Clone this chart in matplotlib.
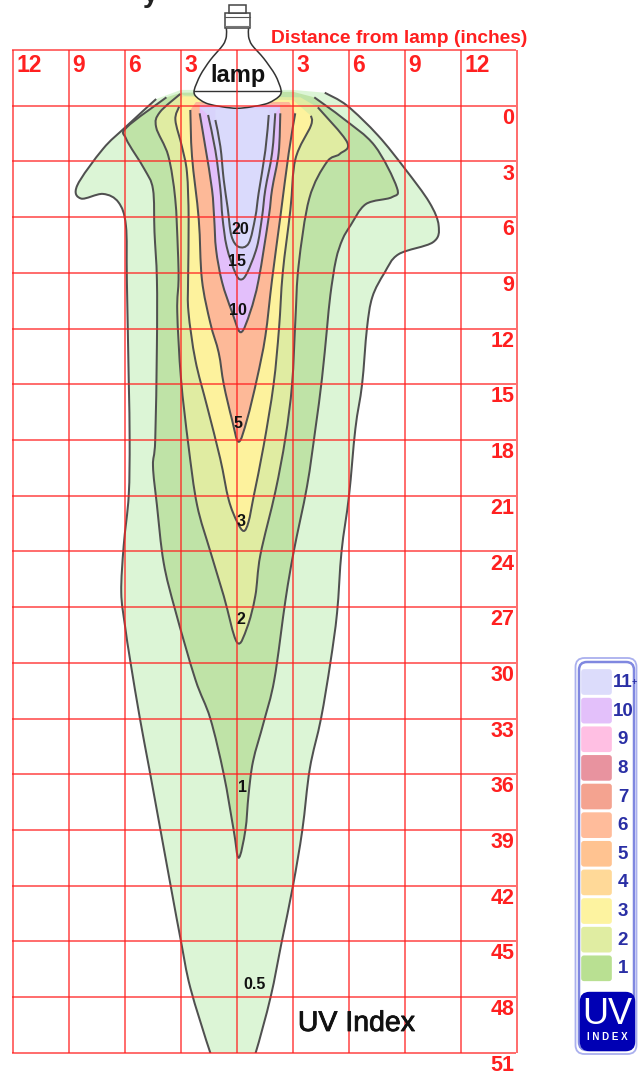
import matplotlib
matplotlib.use("Agg")
import matplotlib.pyplot as plt
import matplotlib.patheffects as pe
import numpy as np
from matplotlib.path import Path
from matplotlib.patches import PathPatch, Rectangle, FancyBboxPatch

plt.rcParams['font.family'] = ['Liberation Sans', 'DejaVu Sans']

# Contours: (x inches from lamp axis, depth inches)
lvl05 = [(-4.33,-.36),(-5.98,1.16),(-7.18,2.33),(-8.56,4.3),(-8.35,5.0),(-7.18,4.75),(-6.35,5.2),(-5.95,6.45),(-5.9,9.35),(-5.8,14.7),(-5.75,18),(-5.8,21),(-6.07,23.7),(-6.2,26.2),(-6,28),(-5.7,30),(-5.2,33),(-4.7,35.7),(-4.1,39),(-3.5,42.3),(-3,45),(-2.5,47.5),(-1.43,51),(-1.0,52),(0.6,52),(1,51),(1.8,48),(2.4,45),(3,42),(3.5,39),(3.9,35.7),(4.5,33),(5,30),(5.36,27.3),(5.6,24),(6,21),(6.34,17.4),(6.7,15),(6.96,12),(7.25,10.3),(7.9,9.0),(8.65,8),(10.5,7.35),(10.8,6.45),(10.3,5.2),(9,3.4),(7.55,1.6),(5.9,0),(4.7,-.7)]
lvl1 = [(-3.78,-.45),(-5.9,1.16),(-5.93,1.8),(-4.97,3.4),(-4.5,4.5),(-4.42,6.8),(-4.29,9.35),(-4.29,12.9),(-4.38,18),(-4.5,19.4),(-4.29,21.5),(-3.93,24.6),(-3.3,27.2),(-2.23,30.9),(-1.43,33),(-.71,36),(-.18,39),(.09,40.5),(.45,39),(.62,37.1),(.86,35.3),(1.43,33.2),(2,30.9),(2.6,26.6),(3.04,24),(3.75,20.5),(4.2,17.4),(4.55,14.7),(4.82,12),(5,10.2),(5.3,8.3),(5.65,7.2),(6.08,6.45),(6.9,5.3),(8.29,4.93),(8.56,4.4),(7.37,2.15),(5.7,.7),(4.14,-.45)]
lvl2 = [(-3.04,-.63),(-4.14,.36),(-4.33,1.16),(-3.68,2.7),(-3.31,5),(-3.17,7.7),(-3.13,9.35),(-3.2,11.1),(-3,14.7),(-2.6,18.3),(-2.14,21.5),(-1.43,24),(-.71,26.4),(0,28.9),(.54,28.1),(.98,26.4),(1.25,24.2),(2.05,20.8),(2.59,17.9),(2.95,15),(3.13,11.5),(3.3,8.6),(3.87,5),(4.8,3.05),(5.5,2.6),(5.9,1.97),(4.33,.09)]
lvl3 = [(-3.1,.05),(-3.3,.77),(-2.95,2.2),(-2.68,3.6),(-2.59,6.1),(-2.62,9.35),(-2.6,11.1),(-2.23,13.7),(-1.6,16.2),(-.9,19),(-.45,21.2),(0,22.4),(.36,22.9),(.62,22.4),(.9,21),(1.43,18.3),(1.96,15),(2.25,12),(2.45,9),(2.86,5.6),(3.13,2.87),(3.96,1.07),(3.96,.54)]
lvl5 = [(-2.5,.23),(-2.41,2.73),(-2.05,6.1),(-1.88,9.35),(-1.43,11.7),(-.98,13.3),(-.71,15),(-.27,16.9),(.09,18.1),(.54,16.9),(1.07,14.7),(1.52,12.4),(1.88,9.35),(2.32,6),(2.77,2.55),(3.12,.41)]
lvl10 = [(-2,.41),(-1.7,2.2),(-1.34,4.5),(-1.22,6.1),(-1.12,7.75),(-.8,9.5),(-.27,11.1),(.2,12.2),(.71,11.1),(1.16,9.36),(1.7,6),(1.88,4.5),(2.23,2.55),(2.32,.41)]
lvl15 = [(-1.55,.5),(-1.16,2.4),(-.89,4.5),(-.78,6),(-.55,7.6),(-.09,9.0),(.21,9.36),(.54,9),(1.07,7.6),(1.34,6),(1.52,4.5),(1.88,2.55),(2.05,.41)]
lvl20 = [(-1.16,.77),(-.89,2.2),(-.71,4),(-.5,5.5),(-.3,7.0),(.09,7.6),(.63,7.4),(.98,6),(1.16,4.7),(1.52,2.4),(1.7,.5)]
lvl_caps = [[(3,-.85),(-3,-.85)],[(3,-.75),(-3,-.7)],[(3.4,-.45),(-2.8,-.55)],[(3,-.3),(-2.9,-.5)],[(2.8,-.2),(-2.2,-.2)],[(2.3,-.05),(-2,-.05)],[(2.3,.1),(-2,.1)],[(1.7,.2),(-1.16,.2)]]
lvl_colors = ['#dcf5d6','#bfe3a7','#e0eca2','#fdf29d','#fdb998','#e3bffb','#d8d3fb','#dadafc']
contours = [lvl05,lvl1,lvl2,lvl3,lvl5,lvl10,lvl15,lvl20]

contour_labels = ['20','15','10','5','3','2','1','0.5']
label_x = [.17,.0,.05,.05,.2,.2,.32,.95]
label_y = [6.64,8.37,11.05,17.1,22.4,27.65,36.7,47.3]

lamp = [(-.57,-4.17),(-.57,-3.72),(-.75,-3.27),(-1.43,-2.46),(-1.96,-1.65),(-2.29,-.84),(-2.18,-.48),(-1.52,-.09),(0,.14),(1.52,-.09),(2.23,-.48),(2.36,-.84),(2.05,-1.65),(1.43,-2.55),(.8,-3.27),(.62,-3.72),(.62,-4.17)]

x_ticks = [-12,-9,-6,-3,0,3,6,9,12,15]
x_tick_labels = ['12','9','6','3','','3','6','9','12','']
y_ticks = list(range(-3,52,3))
y_tick_labels = ['']+[str(v) for v in range(0,52,3)]

legend_labels = ['11','10','9','8','7','6','5','4','3','2','1']
legend_colors = ['#dcdcfb','#e3c0fa','#ffbfe3','#e8939f','#f4a390','#ffbc9b','#ffc391','#ffd998','#fdf3a0','#e0eda2','#b9e092']

RED = '#ff2020'

def smooth(pts, k=1/6):
    p = np.array(pts, float)
    v = [p[0]]; c = [Path.MOVETO]
    for i in range(len(p)-1):
        a = p[max(i-1,0)]; b = p[i]; d = p[i+1]; e = p[min(i+2,len(p)-1)]
        v += [b+(d-a)*k, d-(e-b)*k, d]
        c += [Path.CURVE4]*3
    return v, c

fig = plt.figure(figsize=(6.41,10.75), dpi=100, facecolor='white')
ax = fig.add_axes([0,0,1,1])
ax.set_xlim(-237/18.67, (641-237)/18.67)
ax.set_ylim((1075-105.7)/18.57, -105.7/18.57)
ax.axis('off')

clip = Rectangle((-13,-6), 30, 57, transform=ax.transData)
for z,(pts,cap,col) in enumerate(zip(contours,lvl_caps,lvl_colors)):
    v,c = smooth(pts)
    fv = v+[np.array(q,float) for q in cap]+[v[0]]
    fc = c+[Path.LINETO]*len(cap)+[Path.CLOSEPOLY]
    f = PathPatch(Path(fv,fc),fc=col,ec='none',zorder=2+z*.01)
    ax.add_patch(f); f.set_clip_path(clip)
for z,pts in enumerate(contours):
    v,c = smooth(pts)
    s = PathPatch(Path(v,c),fc='none',ec='#505050',lw=1.45,zorder=3)
    ax.add_patch(s); s.set_clip_path(clip)

# lamp
v,c = smooth(lamp,k=1/7)
ax.add_patch(PathPatch(Path(v+[v[0]],c+[Path.CLOSEPOLY]),fc='white',ec='none',zorder=4))
ax.add_patch(PathPatch(Path(v,c),fc='none',ec='#333333',lw=1.1,zorder=4))
ax.plot([-2.3,2.36],[-.8,-.8],color='#333333',lw=1.0,zorder=4)
ax.add_patch(Rectangle((-.62,-4.97),1.3,.8,fc='white',ec='#444444',lw=1.1,zorder=4))
ax.plot([-.62,.68],[-4.75,-4.75],color='#555555',lw=.8,zorder=4)
ax.plot([-.62,.68],[-4.3,-4.3],color='#777777',lw=.8,zorder=4)
ax.add_patch(Rectangle((-.45,-5.4),.95,.43,fc='white',ec='#444444',lw=1.1,zorder=4))

# grid
ax.vlines(x_ticks,-3,51,color=RED,lw=1.4,alpha=.66,zorder=5)
ax.hlines(y_ticks,-12.05,14.95,color=RED,lw=1.4,alpha=.66,zorder=5)

for xv,l in zip(x_ticks,x_tick_labels):
    if l:
        ax.text(xv+.17,-2.17,l,color=RED,fontsize=16.5,fontweight='bold',ha='left',va='center',zorder=6)
for yv,l in zip(y_ticks,y_tick_labels):
    if l:
        ax.text(14.85,yv+.68,l,color=RED,fontsize=15.5,fontweight='bold',ha='right',va='center',zorder=6)

ax.text(1.8,-3.62,'Distance from lamp (inches)',color=RED,fontsize=13.8,fontweight='bold',ha='left',va='center',zorder=6)
ax.text(.05,-1.62,'lamp',color='#111111',fontsize=17,fontweight='bold',ha='center',va='center',zorder=6)
ax.text(6.4,49.45,'UV Index',color='#111111',fontsize=20.5,ha='center',va='center',zorder=6,
        path_effects=[pe.withStroke(linewidth=.6,foreground='#111111')])
for l,xv,yv in zip(contour_labels,label_x,label_y):
    ax.text(xv,yv,l,color='#111111',fontsize=11.5,fontweight='bold',ha='center',va='center',zorder=6)
ax.text(-4.65,-5.95,'y',color='#222222',fontsize=20,fontweight='bold',ha='center',va='center',zorder=6,clip_on=False)

# legend in pixel coordinates
lg = fig.add_axes([0,0,1,1]); lg.set_xlim(0,641); lg.set_ylim(1075,0); lg.axis('off'); lg.patch.set_alpha(0)
lg.add_patch(FancyBboxPatch((579,662),55,388,boxstyle='round,pad=0,rounding_size=8',fc='white',ec='#8088e0',lw=1.8))
lg.add_patch(FancyBboxPatch((575.5,658),61,396,boxstyle='round,pad=0,rounding_size=9',fc='none',ec='#aab0ee',lw=1.3))
for i,(l,col) in enumerate(zip(legend_labels,legend_colors)):
    yy = 670+i*28.63
    lg.add_patch(FancyBboxPatch((582,yy),29,24,boxstyle='round,pad=0,rounding_size=2',fc=col,ec=col,lw=1.2))
    lg.text(623,yy+12.5,l,color='#2a2fa5',fontsize=13.5,fontweight='bold',ha='center',va='center')
lg.text(634.5,682,'+',color='#2a2fa5',fontsize=6.5,fontweight='bold',ha='center',va='center')
lg.add_patch(FancyBboxPatch((580.5,992.5),54,58,boxstyle='round,pad=0,rounding_size=9',fc='#0000b4',ec='#0000b4',lw=1))
lg.text(607.5,1014,'UV',color='white',fontsize=26,ha='center',va='center')
lg.text(607.5,1037,'I N D E X',color='white',fontsize=7,fontweight='bold',ha='center',va='center')

fig.savefig('out.png',dpi=100)
